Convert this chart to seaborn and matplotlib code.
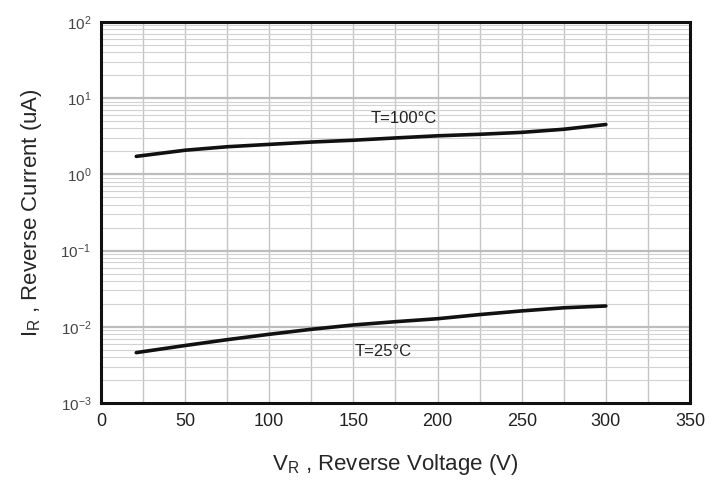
import numpy as np
import pandas as pd
import matplotlib
matplotlib.use("Agg")
import matplotlib.pyplot as plt
import seaborn as sns

# curves
voltage = [21, 50, 75, 100, 125, 150, 175, 200, 225, 250, 275, 300]
ir_100c = [1.72, 2.07, 2.3, 2.47, 2.65, 2.8, 3.0, 3.2, 3.35, 3.55, 3.9, 4.5]
ir_25c = [0.0046, 0.0057, 0.0068, 0.0080, 0.0093, 0.0106, 0.0117, 0.0128, 0.0145, 0.0162, 0.0178, 0.0188]
x_ticks = [0, 50, 100, 150, 200, 250, 300, 350]
y_ticks = [1e-3, 1e-2, 1e-1, 1e0, 1e1, 1e2]
y_tick_labels = [r"$\mathregular{10^{-3}}$", r"$\mathregular{10^{-2}}$", r"$\mathregular{10^{-1}}$",
                 r"$\mathregular{10^{0}}$", r"$\mathregular{10^{1}}$", r"$\mathregular{10^{2}}$"]

df = pd.DataFrame({
    "VR": voltage + voltage,
    "IR": ir_100c + ir_25c,
    "T": ["100"] * len(voltage) + ["25"] * len(voltage),
})

sns.set_style("white")
plt.rcParams["font.family"] = ["Liberation Sans", "DejaVu Sans"]
plt.rcParams["mathtext.fontset"] = "custom"
plt.rcParams["mathtext.rm"] = "Liberation Sans"

fig = plt.figure(figsize=(7.21, 4.84), dpi=100)
ax = fig.add_axes([0.140, 0.167, 0.817, 0.788])

ax.set_yscale("log")
ax.set_xlim(0, 350)
ax.set_ylim(1e-3, 1e2)

# graph-paper grid
for xv in np.arange(25, 350, 25):
    ax.axvline(xv, color="#c4c4c4", lw=1.0, zorder=0)
for dec in range(-3, 2):
    for m in range(2, 10):
        ax.axhline(m * 10.0 ** dec, color="#d2d2d2", lw=0.8, zorder=0)
for dec in range(-2, 2):
    ax.axhline(10.0 ** dec, color="#bdbdbd", lw=1.6, zorder=0)

sns.lineplot(data=df, x="VR", y="IR", hue="T", palette=["#111111", "#111111"],
             linewidth=2.6, legend=False, ax=ax, zorder=3)

ax.text(160, 5.35, "T=100\u00b0C", fontsize=12, color="#222222", va="center")
ax.text(151, 0.0047, "T=25\u00b0C", fontsize=12, color="#222222", va="center")

ax.set_xticks(x_ticks)
ax.set_xticklabels([str(v) for v in x_ticks], fontsize=13, color="#222222")
ax.set_yticks(y_ticks)
ax.set_yticklabels(y_tick_labels, fontsize=11, color="#444444")
ax.minorticks_off()
ax.tick_params(length=0, pad=7)

for s in ax.spines.values():
    s.set_visible(True)
    s.set_color("#111111")
    s.set_linewidth(2.2)

ax.set_xlabel(r"$\mathregular{V_R}$ , Reverse Voltage (V)", fontsize=16, labelpad=16)
ax.set_ylabel(r"$\mathregular{I_R}$ , Reverse Current (uA)", fontsize=16, labelpad=12)

fig.savefig("out.png", dpi=100)
